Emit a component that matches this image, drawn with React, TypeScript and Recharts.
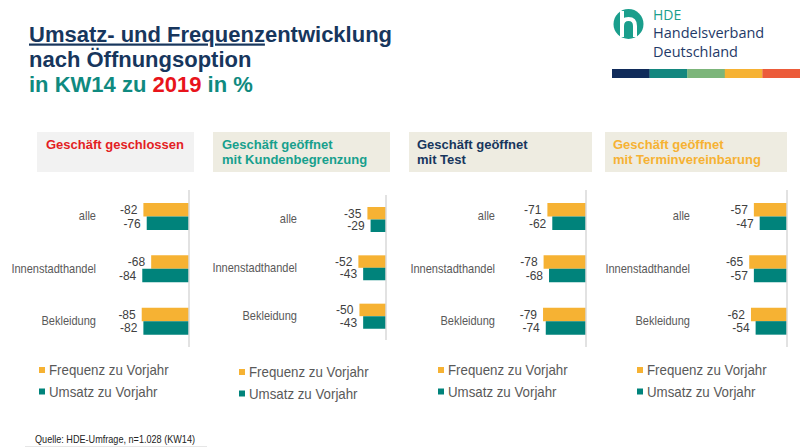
import { Bar, BarChart, LabelList, ReferenceLine, XAxis, YAxis } from "recharts";

const categories = ["alle", "Innenstadthandel", "Bekleidung"];
const seriesNames = ["Frequenz zu Vorjahr", "Umsatz zu Vorjahr"];

const frequenzGeschlossen = [-82, -68, -85];
const umsatzGeschlossen = [-76, -84, -82];
const frequenzKundenbegrenzung = [-35, -52, -50];
const umsatzKundenbegrenzung = [-29, -43, -43];
const frequenzTest = [-71, -78, -79];
const umsatzTest = [-62, -68, -74];
const frequenzTermin = [-57, -65, -62];
const umsatzTermin = [-47, -57, -54];

const FONT = "'Liberation Sans', Arial, Helvetica, sans-serif";
const ORANGE = "#F6B233";
const TEAL = "#00837B";
const NAVY = "#17365D";
const LOGO_TEAL = "#1A9E8C";

const buildRows = (f: number[], u: number[]) =>
  categories.map((name, i) => ({ name, f: f[i], u: u[i] }));

// layout of each panel: plot left edge, zero axis, plot top, plot height, bar thickness
const panels = [
  {
    title: ["Geschäft geschlossen"],
    color: "#E31E24",
    boxFill: "#F2F2F2",
    box: [37, 157],
    textX: 46,
    rows: buildRows(frequenzGeschlossen, umsatzGeschlossen),
    plotLeft: 100,
    axisX: 189,
    top: 190,
    height: 157,
    barSize: 13.5,
    legendX: 39,
    legendY: 370,
  },
  {
    title: ["Geschäft geöffnet", "mit Kundenbegrenzung"],
    color: "#17A08D",
    boxFill: "#EEECE1",
    box: [213, 177],
    textX: 222,
    rows: buildRows(frequenzKundenbegrenzung, umsatzKundenbegrenzung),
    plotLeft: 301,
    axisX: 386,
    top: 195,
    height: 145,
    barSize: 12.5,
    legendX: 239,
    legendY: 372,
  },
  {
    title: ["Geschäft geöffnet", "mit Test"],
    color: NAVY,
    boxFill: "#EEECE1",
    box: [409, 183],
    textX: 417,
    rows: buildRows(frequenzTest, umsatzTest),
    plotLeft: 499,
    axisX: 586,
    top: 190,
    height: 157,
    barSize: 13.5,
    legendX: 438,
    legendY: 370,
  },
  {
    title: ["Geschäft geöffnet", "mit Terminvereinbarung"],
    color: ORANGE,
    boxFill: "#EEECE1",
    box: [605, 182],
    textX: 613,
    rows: buildRows(frequenzTermin, umsatzTermin),
    plotLeft: 694,
    axisX: 787,
    top: 190,
    height: 157,
    barSize: 13.5,
    legendX: 637,
    legendY: 370,
  },
];

const Y_AXIS_W = 100;
const DOMAIN: [number, number] = [-160, 0];

function CategoryTick(props: any) {
  const { x, y, payload } = props;
  return (
    <text
      transform={`translate(${x} ${y}) scale(0.92 1)`}
      textAnchor="end"
      dominantBaseline="central"
      fill="#595959"
      fontSize={12}
      fontFamily={FONT}
    >
      {payload.value}
    </text>
  );
}

function Panel({ p }: { p: (typeof panels)[number] }) {
  const left = p.plotLeft - Y_AXIS_W;
  const width = p.axisX - left + 10;
  // bars are negative, so Recharts' "right" side is the outer (left) end of the bar
  return (
    <div style={{ position: "absolute", left, top: p.top }}>
      <BarChart
        width={width}
        height={p.height}
        data={p.rows}
        layout="vertical"
        barGap={0}
        margin={{ top: 0, right: 10, bottom: 0, left: 0 }}
      >
        <XAxis type="number" domain={DOMAIN} hide />
        <YAxis
          type="category"
          dataKey="name"
          width={Y_AXIS_W}
          tickLine={false}
          axisLine={false}
          tickSize={0}
          tickMargin={4}
          interval={0}
          tick={(t: any) => <CategoryTick {...t} />}
        />
        <Bar dataKey="f" fill={ORANGE} barSize={p.barSize} isAnimationActive={false}>
          <LabelList
            dataKey="f"
            position="right"
            offset={6}
            fill="#404040"
            fontSize={12}
            fontFamily={FONT}
          />
        </Bar>
        <Bar dataKey="u" fill={TEAL} barSize={p.barSize} isAnimationActive={false}>
          <LabelList
            dataKey="u"
            position="right"
            offset={6}
            fill="#404040"
            fontSize={12}
            fontFamily={FONT}
          />
        </Bar>
        <ReferenceLine x={0} stroke="#D9D9D9" strokeWidth={1.5} />
      </BarChart>
    </div>
  );
}

const stripeColors = ["#102B5A", "#13877F", "#7CB57A", "#F6B233", "#EC5B3A"];

export default function App() {
  return (
    <div
      style={{
        position: "absolute",
        left: 0,
        top: 0,
        width: 800,
        height: 447,
        overflow: "hidden",
        background: "#fff",
        fontFamily: FONT,
      }}
    >
      <svg
        width={800}
        height={447}
        style={{ position: "absolute", left: 0, top: 0 }}
        fontFamily={FONT}
      >
        {/* title */}
        <text x={29} y={41.5} fontSize={22} fontWeight="bold" fill={NAVY}>
          <tspan style={{ textDecoration: "underline" }}>Umsatz- und Frequenz</tspan>
          entwicklung
        </text>
        <text x={29} y={66.5} fontSize={22} fontWeight="bold" fill={NAVY}>
          nach Öffnungsoption
        </text>
        <text x={29} y={92} fontSize={22} fontWeight="bold" fill="#0F8A80">
          in KW14 zu <tspan fill="#E8141B">2019</tspan> in %
        </text>

        {/* logo */}
        <circle cx={628.5} cy={24} r={15} fill={LOGO_TEAL} />
        <path
          d="M622 11 L622 37 M622 26 Q622 19 628.5 19 Q635 19 635 26 L635 37"
          stroke="#fff"
          strokeWidth={4}
          fill="none"
        />
        <text
          x={653}
          y={20}
          fontSize={14}
          fontWeight={500}
          fill={LOGO_TEAL}
          fontFamily="'Open Sans', sans-serif"
        >
          HDE
        </text>
        <text
          x={653}
          y={37.5}
          fontSize={14.5}
          fontWeight={500}
          fill="#1F3A68"
          fontFamily="'Open Sans', sans-serif"
        >
          Handelsverband
        </text>
        <text
          x={653}
          y={56.5}
          fontSize={14.5}
          fontWeight={500}
          fill="#1F3A68"
          fontFamily="'Open Sans', sans-serif"
        >
          Deutschland
        </text>
        {stripeColors.map((c, i) => (
          <rect key={c} x={612 + i * 37.6} y={69} width={37.8} height={9} fill={c} />
        ))}

        {/* panel headers */}
        {panels.map((p) => (
          <g key={p.title.join()}>
            <rect x={p.box[0]} y={132} width={p.box[1]} height={40} fill={p.boxFill} />
            {p.title.map((line, i) => (
              <text
                key={line}
                x={p.textX}
                y={148.5 + i * 15.5}
                fontSize={13}
                fontWeight="bold"
                fill={p.color}
              >
                {line}
              </text>
            ))}
          </g>
        ))}

        {/* legends */}
        {panels.map((p) => (
          <g key={"lg" + p.textX}>
            {seriesNames.map((s, i) => (
              <g key={s}>
                <rect
                  x={p.legendX}
                  y={p.legendY + i * 21.5 - 3}
                  width={6}
                  height={6}
                  fill={i === 0 ? ORANGE : TEAL}
                />
                <text
                  transform={`translate(${p.legendX + 10} ${p.legendY + i * 21.5 + 5}) scale(0.95 1)`}
                  fontSize={14}
                  fill="#595959"
                >
                  {s}
                </text>
              </g>
            ))}
          </g>
        ))}

        {/* source */}
        <text
          x={35}
          y={442.5}
          fontSize={10.5}
          fill="#222"
          textLength={160}
          lengthAdjust="spacingAndGlyphs"
        >
          Quelle: HDE-Umfrage, n=1.028  (KW14)
        </text>
        <line x1={25} y1={446.5} x2={207} y2={446.5} stroke="#E6E6E6" strokeWidth={1} />
      </svg>
      {panels.map((p) => (
        <Panel key={p.textX} p={p} />
      ))}
    </div>
  );
}
